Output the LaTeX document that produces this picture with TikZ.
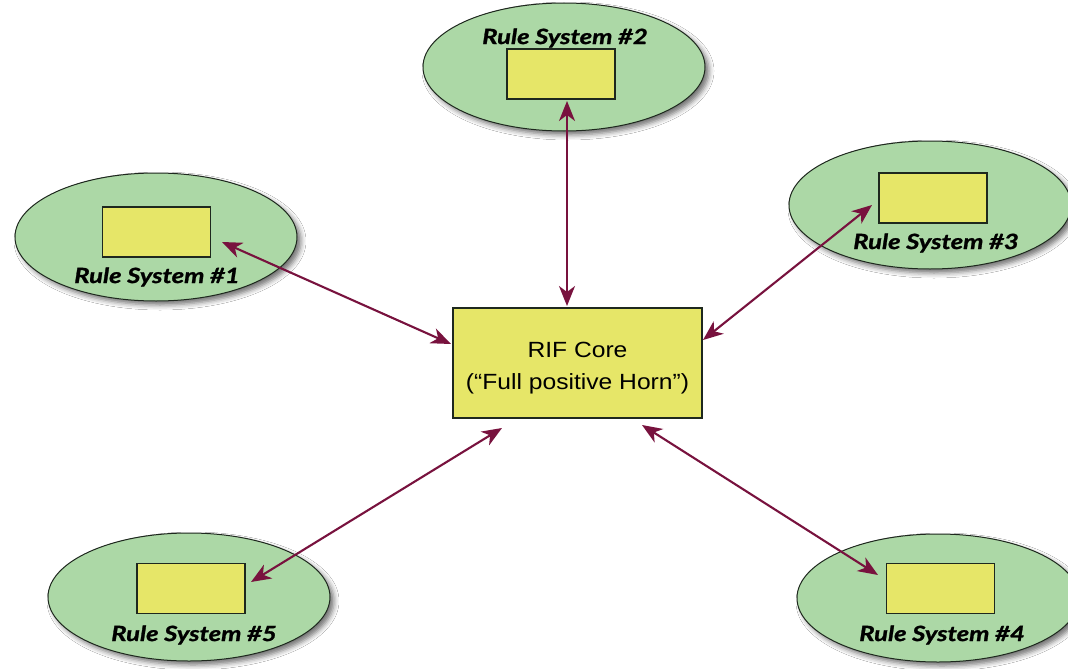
\documentclass[tikz,border=0pt]{standalone}
\usepackage{fontspec}
\setmainfont{Liberation Sans}
\newfontfamily\labelfont[FakeStretch=1.22,FakeBold=1.2]{Lato}
\newfontfamily\corefont[FakeStretch=1.12]{Liberation Sans}
\usetikzlibrary{shapes.geometric,arrows.meta,shadows.blur}
\definecolor{sysgreen}{RGB}{172,216,166}
\definecolor{boxyellow}{RGB}{230,230,104}
\definecolor{linkred}{RGB}{120,18,62}
\definecolor{edgedark}{RGB}{30,40,30}
\tikzset{
  system/.style={ellipse, draw=edgedark, line width=1pt, fill=sysgreen,
    minimum width=282pt, minimum height=128pt, inner sep=0pt,
    blur shadow={shadow xshift=4pt, shadow yshift=-4pt, shadow blur radius=5pt, shadow opacity=55}},
  innerbox/.style={rectangle, draw=edgedark, line width=1.5pt, fill=boxyellow,
    minimum width=108pt, minimum height=50pt, inner sep=0pt},
  corebox/.style={rectangle, draw=edgedark, line width=1.5pt, fill=boxyellow,
    minimum width=249pt, minimum height=110pt, inner sep=0pt},
  coretext/.style={align=center, inner sep=0pt,
    font=\corefont\fontsize{22}{32}\selectfont},
  syslabel/.style={font=\labelfont\bfseries\itshape\fontsize{21}{24}\selectfont, inner sep=0pt},
  link/.style={draw=linkred, line width=2.1pt,
    {Stealth[length=20pt,width=16pt,inset=6pt]}-{Stealth[length=20pt,width=16pt,inset=6pt]}}
}
\begin{document}
\begin{tikzpicture}[x=1pt,y=-1pt]
\useasboundingbox[fill=white] (0,0) rectangle (1068,669);

% the five rule systems
\node[system] (s1) at (156,237) {};
\node[system] (s2) at (564,67) {};
\node[system] (s3) at (930,205) {};
\node[system] (s4) at (938,598) {};
\node[system] (s5) at (189,597) {};

\node[innerbox] (b1) at (156.5,232) {};
\node[innerbox] (b2) at (561,74) {};
\node[innerbox] (b3) at (933,198) {};
\node[innerbox] (b4) at (940.5,588.5) {};
\node[innerbox] (b5) at (191,588.5) {};

\node[syslabel] (l1) at (157,277) {Rule System \#1};
\node[syslabel] (l2) at (565,38) {Rule System \#2};
\node[syslabel] (l3) at (936,243) {Rule System \#3};
\node[syslabel] (l4) at (942,635) {Rule System \#4};
\node[syslabel] (l5) at (194,635) {Rule System \#5};

% central core
\node[corebox] (core) at (577.5,363) {};
\node[coretext] (coretxt) at ([yshift=-5pt]core.center) {RIF Core\\(“Full positive Horn”)};

% link end points
\coordinate (e1) at (222,242);
\coordinate (c1) at (451,344);
\coordinate (e2) at (567,101);
\coordinate (c2) at (567,306);
\coordinate (e3) at (872,205);
\coordinate (c3) at (703,340);
\coordinate (e4) at (878,575);
\coordinate (c4) at (642,425);
\coordinate (e5) at (251,582);
\coordinate (c5) at (502,428);

\draw[link] (e1) -- (c1);
\draw[link] (e2) -- (c2);
\draw[link] (e3) -- (c3);
\draw[link] (e4) -- (c4);
\draw[link] (e5) -- (c5);
\end{tikzpicture}
\end{document}
